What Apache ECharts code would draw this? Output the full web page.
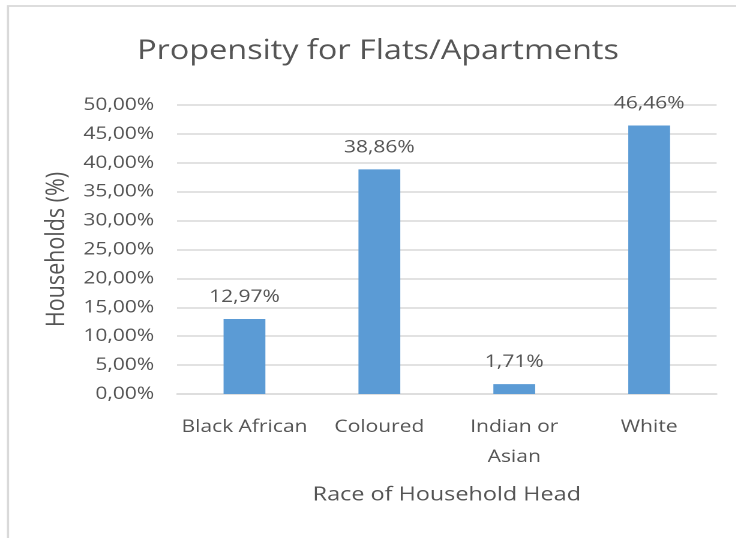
<!DOCTYPE html>
<html>
<head>
<meta charset="utf-8">
<title>Propensity for Flats/Apartments</title>
<script src="https://cdn.jsdelivr.net/npm/echarts@6/dist/echarts.min.js"></script>
<style>
  html, body { margin: 0; padding: 0; background: #ffffff; overflow: hidden; }
  #wrap { width: 736px; height: 538px; overflow: hidden; }
  /* the chart is laid out narrow, then widened so its lettering has the wide look of the original export */
  #chart { height: 538px; transform-origin: 0 0; }
</style>
</head>
<body>
<div id="wrap"><div id="chart"></div></div>
<script>
// Chart data
const categories = ['Black African', 'Coloured', 'Indian or\nAsian', 'White'];
const shares = [12.97, 38.86, 1.71, 46.46];   // households, percent
const yTicks = { min: 0, max: 50, step: 5 };  // percent

// horizontal widening applied to the whole drawing
const SX = 1.2;
const W = 736, H = 538;
const el = document.getElementById('chart');
el.style.width = (W / SX) + 'px';
el.style.transform = 'scaleX(' + SX + ')';

const TXT = '#555555';
const GRID = '#d9d9d9';
const FONT = 'Open Sans';
const pct = v => v.toFixed(2).replace('.', ',') + '%';

const chart = echarts.init(el, null, { renderer: 'canvas', devicePixelRatio: 2 });

chart.setOption({
  animation: false,
  backgroundColor: '#ffffff',
  textStyle: { fontFamily: FONT, color: TXT },
  graphic: [{
    type: 'rect',
    shape: { x: 8 / SX, y: 6, width: W, height: H },
    style: { fill: 'none', stroke: GRID, lineWidth: 1.8 },
    silent: true
  }],
  title: {
    text: 'Propensity for Flats/Apartments',
    left: 372 / SX,
    top: 33,
    textAlign: 'center',
    textStyle: { fontFamily: FONT, fontSize: 27, fontWeight: 'normal', color: TXT }
  },
  grid: {
    left: 177 / SX,
    right: (W - 717) / SX,
    top: 105,
    bottom: H - 394,
    containLabel: false
  },
  xAxis: {
    type: 'category',
    data: categories,
    name: 'Race of Household Head',
    nameLocation: 'middle',
    nameGap: 91,
    nameTextStyle: { fontFamily: FONT, fontSize: 19.5, color: TXT },
    axisLine: { lineStyle: { color: GRID, width: 1.5 } },
    axisTick: { show: false },
    axisLabel: {
      interval: 0,
      margin: 18,
      fontFamily: FONT, fontSize: 17.5, color: TXT,
      lineHeight: 30
    }
  },
  yAxis: {
    type: 'value',
    min: yTicks.min,
    max: yTicks.max,
    interval: yTicks.step,
    name: 'Households (%)',
    nameLocation: 'middle',
    nameGap: 84,
    nameTextStyle: { fontFamily: FONT, fontSize: 21.5, color: TXT },
    axisLine: { show: false },
    axisTick: { show: false },
    splitLine: { lineStyle: { color: GRID, width: 1.5 } },
    axisLabel: {
      margin: 19,
      fontFamily: FONT, fontSize: 17.5, color: TXT,
      formatter: v => pct(v)
    }
  },
  series: [{
    type: 'bar',
    data: shares,
    barWidth: '31%',
    itemStyle: { color: '#5b9bd5' },
    label: {
      show: true,
      position: 'top',
      distance: 13,
      fontFamily: FONT, fontSize: 17.5, color: TXT,
      formatter: p => pct(p.value)
    }
  }]
});
</script>
</body>
</html>
